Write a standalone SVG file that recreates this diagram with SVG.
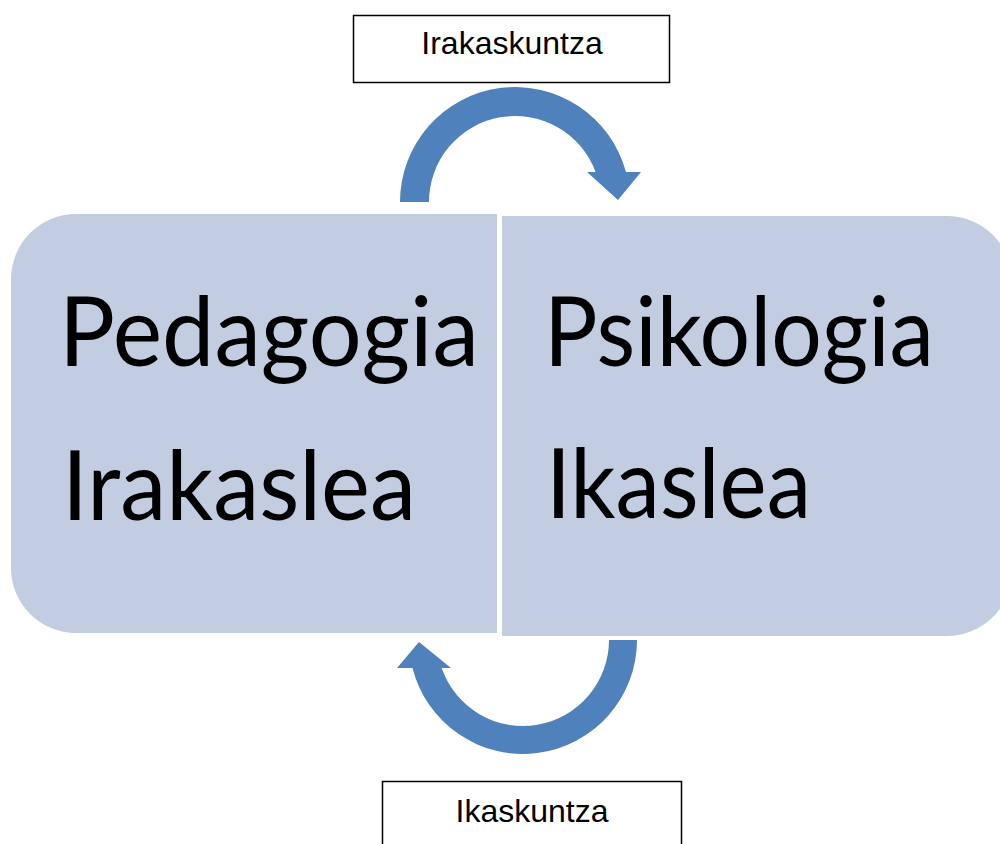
<svg xmlns="http://www.w3.org/2000/svg" width="1000" height="844" viewBox="0 0 1000 844">
  <style>
    .panel { fill: #C3CDE2; }
    .big { font-family: Lato, "Open Sans", "Noto Sans", sans-serif; font-size: 96px; fill: #000; }
    .label-box { fill: #fff; stroke: #000; stroke-width: 1.5; }
    .label { font-family: "Liberation Sans", Arial, sans-serif; font-size: 32px; fill: #000; text-anchor: middle; }
    .cycle { fill: #4F81BD; }
  </style>
  <rect width="1000" height="844" fill="#fff"/>

  <!-- left panel: rounded on the outer corners only -->
  <g id="pedagogia">
    <path class="panel" d="M 76,214 L 497,214 L 497,633 L 76,633 A 65 65 0 0 1 11,568 L 11,279 A 65 65 0 0 1 76,214 Z"/>
    <text class="big" x="59" y="366" textLength="420" lengthAdjust="spacingAndGlyphs">Pedagogia</text>
    <text class="big" x="62" y="520" textLength="354" lengthAdjust="spacingAndGlyphs">Irakaslea</text>
  </g>

  <!-- right panel, runs off the right edge -->
  <g id="psikologia">
    <path class="panel" d="M 502,216 L 947,216 A 65 65 0 0 1 1012,281 L 1012,571 A 65 65 0 0 1 947,636 L 502,636 Z"/>
    <text class="big" x="544" y="366" textLength="390" lengthAdjust="spacingAndGlyphs">Psikologia</text>
    <text class="big" x="546" y="518" textLength="265" lengthAdjust="spacingAndGlyphs">Ikaslea</text>
  </g>

  <g id="irakaskuntza">
    <rect class="label-box" x="353.5" y="15.5" width="316" height="67"/>
    <text class="label" x="512" y="54">Irakaskuntza</text>
  </g>

  <g id="ikaskuntza">
    <rect class="label-box" x="382.5" y="781.5" width="299" height="80"/>
    <text class="label" x="532" y="822">Ikaskuntza</text>
  </g>

  <!-- curved arrows linking the two panels -->
  <g id="connectors">
    <path class="cycle" d="M 400,202 A 115 115 0 0 1 626,172 L 641,172 L 618,200 L 587,172 L 595.6,172 A 86 86 0 0 0 429,202 Z"/>
    <path class="cycle" d="M 637,640 A 114 114 0 0 1 412.5,668 L 397,668 L 419,642 L 451,668 L 441.7,668 A 86 86 0 0 0 609,640 Z"/>
  </g>
</svg>
